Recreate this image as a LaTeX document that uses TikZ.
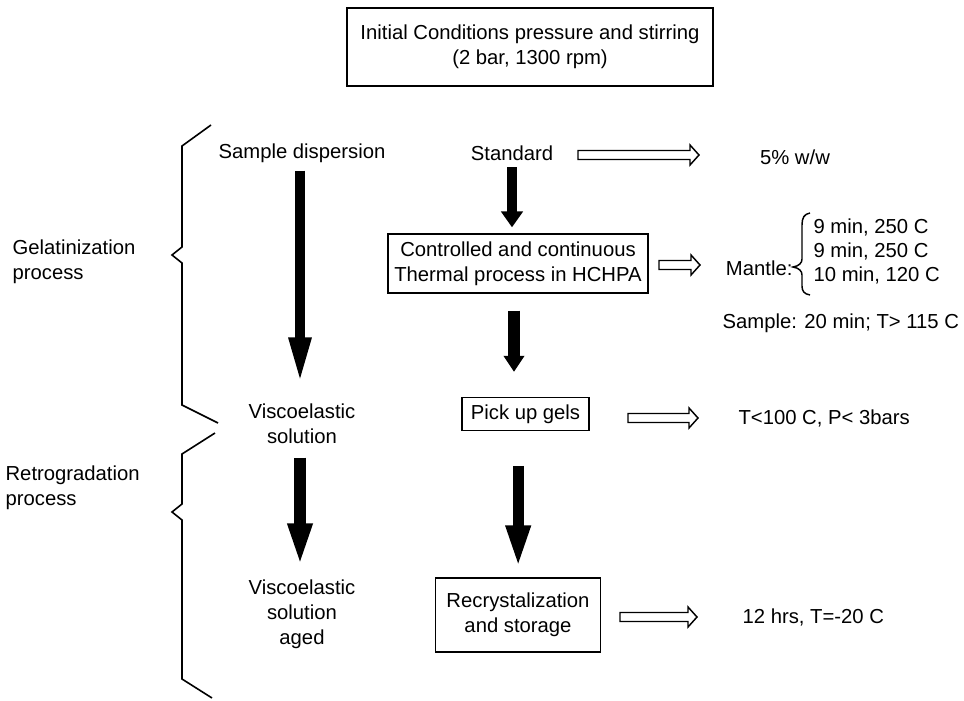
\documentclass[tikz,border=0pt]{standalone}
\usepackage{fontspec}
\setmainfont{Liberation Sans}
\usetikzlibrary{arrows.meta}
\newcommand\hollowarr[2]{\draw[hollowline] (#1) ++(0,-4.5) -- ++({#2-9},0) -- ++(0,-5.5) -- ++(9,10) -- ++(-9,10) -- ++(0,-5.5) -- ++({9-#2},0) -- cycle;}
\begin{document}
\begin{tikzpicture}[x=0.75pt,y=-0.75pt,
  every node/.style={font=\fontsize{15.2}{18.75}\selectfont, align=center, inner sep=1pt},
  boxnode/.style={draw, line width=1pt},
  bracket/.style={line width=1.2pt, line join=miter},
  hollowline/.style={line width=1.1pt, line join=miter},
  thickarr/.style={line width=7.8pt},
]
\useasboundingbox (0,0) rectangle (964,700);

% boxes
\node[boxnode, minimum width=274.5pt, minimum height=58.5pt] (init) at (530,47)
  {Initial Conditions pressure and stirring\\(2 bar, 1300 rpm)};
\node[boxnode, minimum width=195pt, minimum height=44.25pt] (therm) at (518,263.5)
  {Controlled and continuous\\Thermal process in HCHPA};
\node[boxnode, minimum width=95.25pt, minimum height=24.75pt] (pick) at (525.5,414)
  {Pick up gels};
\node[boxnode, minimum width=123.75pt, minimum height=55.5pt] (recr) at (518,615)
  {Recrystalization\\and storage};

% text nodes
\node (sd) at (302,153) {Sample dispersion};
\node (std) at (512,153) {Standard};
\node (w5) at (795,157) {5\% w/w};
\node (vs1) at (302,424) {Viscoelastic\\solution};
\node (vs2) at (302,614) {Viscoelastic\\solution\\aged};
\node[anchor=east] (mant) at (794,268) {Mantle:};
\node[anchor=west] (m1) at (812,227) {9 min, 250 C};
\node[anchor=west] (m2) at (812,251) {9 min, 250 C};
\node[anchor=west] (m3) at (812,275) {10 min, 120 C};
\node[anchor=west] (samp) at (721,323) {Sample: 20 min; T> 115 C};
\node[anchor=west] (tp) at (737,418) {T<100 C, P< 3bars};
\node[anchor=west] (hrs) at (741,617) {12 hrs, T=-20 C};
\node[anchor=west, align=left] (gel) at (11,262) {Gelatinization\\process};
\node[anchor=west, align=left] (ret) at (4,488) {Retrogradation\\process};

% thick black arrows
\draw[thickarr, -{Triangle[length=36pt,width=15pt]}, shorten <=5pt, shorten >=12.75pt]
  ([xshift=-1.5pt]sd.south) -- ([xshift=-1.5pt]vs1.north);
\draw[thickarr, -{Triangle[length=12pt,width=16pt]}, shorten <=4pt, shorten >=4.5pt]
  (std.south) -- (std.south |- therm.north);
\draw[thickarr, line width=8.5pt, -{Triangle[length=12pt,width=15pt]}, shorten <=12.75pt, shorten >=18.75pt]
  ([xshift=-3pt]therm.south) -- ([xshift=-3pt]therm.south |- pick.north);
\draw[thickarr, line width=8.5pt, -{Triangle[length=33pt,width=16.5pt]}, shorten <=9pt, shorten >=8pt]
  ([xshift=-1.5pt]vs1.south) -- ([xshift=-1.5pt]vs2.north);
\draw[thickarr, line width=8.5pt, -{Triangle[length=33pt,width=16.5pt]}, shorten <=26pt, shorten >=6pt]
  ([xshift=-5.5pt]pick.south) -- ([xshift=-5.5pt]pick.south |- recr.north);

% hollow arrows
\coordinate (h1) at (578,155);
\coordinate (h2) at (659,265);
\coordinate (h3) at (628,418);
\coordinate (h4) at (620,617);
\hollowarr{h1}{121}
\hollowarr{h2}{41}
\hollowarr{h3}{70}
\hollowarr{h4}{77}

% left braces
\draw[bracket] (211,125) -- (182,146) -- (182,247) -- (172,255) -- (182,263) -- (182,405) -- (218,423);
\draw[bracket] (215,433) -- (182,454) -- (182,504) -- (172,512) -- (182,520) -- (182,679) -- (212,698);

% mantle brace
\draw[line width=1.1pt] (810,213) .. controls (804,214) and (802,218) .. (802,225) -- (802,259)
  .. controls (802,263) and (799,266) .. (793,267) .. controls (799,268) and (802,271) .. (802,275)
  -- (802,286) .. controls (802,291) and (804,294) .. (810,295);
\end{tikzpicture}
\end{document}
